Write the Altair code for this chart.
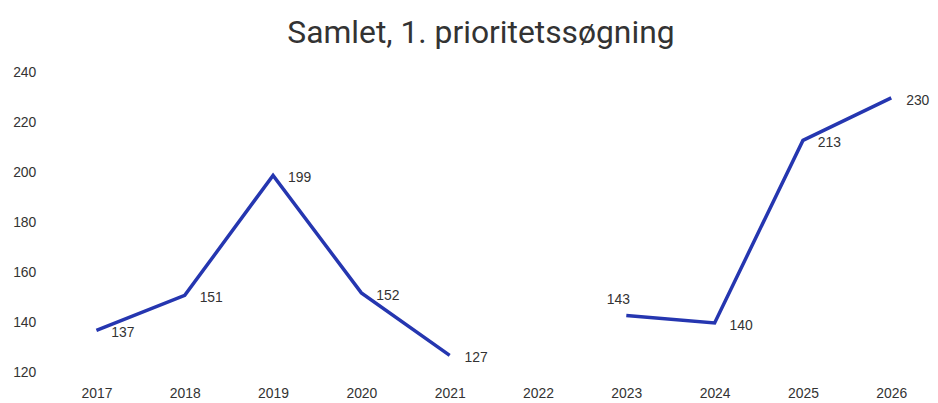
import altair as alt
import pandas as pd

years = ["2017", "2018", "2019", "2020", "2021", "2022", "2023", "2024", "2025", "2026"]
values = [137, 151, 199, 152, 127, None, 143, 140, 213, 230]
y_ticks = [120, 140, 160, 180, 200, 220, 240]

df = pd.DataFrame({"year": years, "value": values})
df["segment"] = df["value"].isna().cumsum()
line_df = df.dropna()

x_enc = alt.X("year:O", sort=years,
              scale=alt.Scale(type="point", domain=years, range=[48, 848], padding=0),
              axis=alt.Axis(title=None, labelAngle=0, domain=False, ticks=False,
                            labelPadding=14, labelFontSize=14, labelColor="#333333",
                            labelFont="Liberation Sans"))
y_enc = alt.Y("value:Q",
              scale=alt.Scale(domain=[120, 240], nice=False, zero=False),
              axis=alt.Axis(title=None, values=y_ticks, grid=False, domain=False, ticks=False,
                            labelPadding=13, labelFontSize=14, labelColor="#333333",
                            labelFont="Liberation Sans"))

base = alt.Chart(line_df)

line = base.mark_line(color="#2536b0", strokeWidth=3.5).encode(
    x=x_enc, y=y_enc, detail="segment:N")

labels_right = base.transform_filter(alt.datum.year != "2023").mark_text(
    align="left", baseline="middle", dx=15, dy=3, fontSize=14, color="#333333",
    font="Liberation Sans").encode(x=x_enc, y=y_enc, text="value:Q")

labels_above = base.transform_filter(alt.datum.year == "2023").mark_text(
    align="center", baseline="middle", dx=-8, dy=-15, fontSize=14, color="#333333",
    font="Liberation Sans").encode(x=x_enc, y=y_enc, text="value:Q")

chart = alt.layer(line, labels_right, labels_above).properties(
    width=870, height=302,
    title=alt.TitleParams("Samlet, 1. prioritetssøgning", fontSize=32, font="Roboto",
                          fontWeight="normal", color="#333333", anchor="middle", offset=16),
    padding={"left": 4, "top": 8, "right": 0, "bottom": 0},
).configure_view(stroke=None)

chart.save("out.html", embed_options={"renderer": "svg", "actions": False})
